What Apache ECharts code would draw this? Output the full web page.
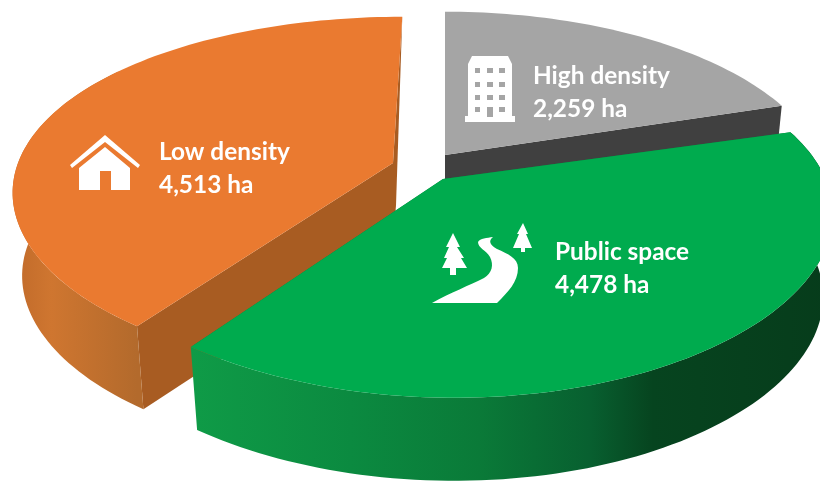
<!DOCTYPE html>
<html>
<head>
<meta charset="utf-8">
<style>html,body{margin:0;padding:0;background:#fff}#chart{width:820px;height:483px}</style>
<script src="https://cdn.jsdelivr.net/npm/echarts@6/dist/echarts.min.js"></script>
</head>
<body>
<div id="chart"></div>
<script>
// Land use by area, clockwise from twelve o'clock.
const categories = ['High density', 'Public space', 'Low density'];
const hectares = [2259, 4478, 4513];
const unit = 'ha';

// Exploded disc: each slice sits on its own apex, seen in perspective.
const apexes = [[445, 155], [443, 179], [393, 163]];
const radiiX = [375, 384, 375];
const radiiY = [172, 175, 172];
const perspectiveX = [0.2, 0.16, 0.14];
const perspectiveY = [0.2, 0.2, 0.176];
const leans = [0, -5, 10.6];
const tilts = [0, 3.5, 0];
const paintOrder = [2, 3, 1];
const DEPTH = 83, FOOT_SCALE = 0.975, RIM_END = Math.PI * 1.7;

const faceColors = ['#a5a5a5', '#00ab4e', '#ea7a30'];
const wallColors = ['#404040', '#0c7a3a', '#a85c22'];
const rimStops = [
  null,
  [[0, '#0f9b47'], [0.25, '#0b8a40'], [0.45, '#0a7a38'], [0.62, '#086030'], [0.72, '#06441f'], [1, '#063c1b']],
  [[0, '#c06a2a'], [0.31, '#cf7630'], [1, '#b36a2c']]
];
const labelCenters = [[533, 76], [555, 252], [159, 152]];
const LINE_GAP = 33;
const LABEL_FONT = 'bold 24.4px Lato';

const total = hectares.reduce((a, b) => a + b, 0);
const startAngles = [];
hectares.reduce((sum, v, i) => { startAngles[i] = sum / total * Math.PI * 2; return sum + v; }, 0);

// Maps a point on the rim of the unit disc (clock angle) to the screen.
function project(i, angle, drop) {
  const u = Math.sin(angle), v = Math.cos(angle);
  const wx = 1 + perspectiveX[i] * v, wy = 1 + perspectiveY[i] * v;
  const x = radiiX[i] * u / wx + leans[i] * v / wx;
  const y = -radiiY[i] * v / wy + tilts[i] * u;
  return [apexes[i][0] + x * (drop ? FOOT_SCALE : 1), apexes[i][1] + y + drop];
}

function arcPoints(i, a0, a1, drop) {
  const pts = [];
  const n = Math.max(8, Math.ceil((a1 - a0) * 40));
  for (let k = 0; k <= n; k++) pts.push(project(i, a0 + (a1 - a0) * k / n, drop));
  return pts;
}

// Pictograms per slice, drawn on the top faces.
const sliceIcons = [
  [
    { fill: '#fff', d: 'M472,56 L508,56 L512,64 L512,116 L515,116 L515,122 L465,122 L465,116 L468,116 L468,64 Z' },
    { fill: '#a5a5a5', d: 'M475,68h5v5h-5z M487,68h6v5h-6z M499,68h6v5h-6z M475,82h5v5h-5z M487,82h6v5h-6z M499,82h6v5h-6z M475,95h5v5h-5z M487,95h6v5h-6z M499,95h6v5h-6z M475,107h5v5h-5z M487,107h6v10h-6z M499,107h6v5h-6z' }
  ],
  [
    { fill: '#fff', d: 'M432,303 C450,293 470,285 484,278 C492,273 494,265 490,257 C486,250 478,248 478,242 C480,238 487,238 493,237 C488,241 490,245 497,249 C508,254 518,258 518,268 C518,282 508,292 497,303 Z' },
    { fill: '#fff', d: 'M453,233 L460,247 L457,247 L464,258 L461,258 L467,268 L456,268 L456,275 L450,275 L450,268 L442,268 L447,258 L444,258 L449,247 L446,247 Z' },
    { fill: '#fff', d: 'M523,223 L528,234 L526,234 L532,248 L525,248 L525,252 L521,252 L521,248 L513,248 L519,234 L517,234 Z' }
  ],
  [
    { fill: '#fff', d: 'M70,165 L105,135 L140,165 L138,168 L105,142 L72,168 Z M105,147 L130,168 L130,190 L111,190 L111,171 L100,171 L100,190 L79,190 L79,168 Z' }
  ]
];

function renderSlice(params, api) {
  const i = params.dataIndex;
  const a0 = startAngles[i];
  const a1 = a0 + api.value(1) / total * Math.PI * 2;
  const apex = apexes[i];
  const z2 = paintOrder[i] * 10;
  const top = arcPoints(i, a0, a1, 0);
  const first = top[0], last = top[top.length - 1];
  const apexFoot = [apex[0], apex[1] + DEPTH];
  const footOf = angle => project(i, angle, DEPTH);
  const children = [];

  // Cut faces first, then the outer rim, then the top surface.
  children.push({
    type: 'polygon', z2,
    shape: { points: [apex, first, footOf(a0), apexFoot] },
    style: { fill: wallColors[i] }
  });
  if (i === 0) {
    children.push({
      type: 'polygon', z2,
      shape: { points: [apex, last, footOf(a1), apexFoot] },
      style: { fill: wallColors[i] }
    });
  } else {
    // Far cut, seen edge-on as a thin sliver.
    children.push({
      type: 'polygon', z2,
      shape: { points: [apex, last, [apex[0] + 3, apex[1] + 42], apexFoot] },
      style: { fill: wallColors[i] }
    });
  }
  if (rimStops[i]) {
    const rimEnd = Math.min(a1, RIM_END);
    const rimTop = arcPoints(i, a0, rimEnd, 0);
    const rimFoot = arcPoints(i, a0, rimEnd, DEPTH).reverse();
    const xs = rimTop.map(p => p[0]);
    children.push({
      type: 'polygon', z2: z2 + 1,
      shape: { points: rimTop.concat(rimFoot) },
      style: {
        fill: new echarts.graphic.LinearGradient(
          Math.min.apply(null, xs), 0, Math.max.apply(null, xs), 0,
          rimStops[i].map(s => ({ offset: s[0], color: s[1] })),
          true)
      }
    });
  }
  children.push({
    type: 'polygon', z2: z2 + 2,
    shape: { points: [apex].concat(top) },
    style: { fill: faceColors[i] }
  });

  sliceIcons[i].forEach(ic => {
    children.push({ type: 'path', z2: z2 + 3, shape: { pathData: ic.d }, style: { fill: ic.fill } });
  });

  // Two-line caption: category and its area.
  const at = labelCenters[i];
  children.push({
    type: 'text', z2: z2 + 4,
    style: { x: at[0], y: at[1], text: categories[i], fill: '#fff', font: LABEL_FONT, verticalAlign: 'middle' }
  });
  children.push({
    type: 'text', z2: z2 + 4,
    style: { x: at[0], y: at[1] + LINE_GAP, text: api.value(1).toLocaleString('en-US') + ' ' + unit, fill: '#fff', font: LABEL_FONT, verticalAlign: 'middle' }
  });
  return { type: 'group', children };
}

const chart = echarts.init(document.getElementById('chart'), null, { renderer: 'canvas' });
chart.setOption({
  animation: false,
  backgroundColor: '#fff',
  series: [{
    type: 'custom',
    coordinateSystem: 'none',
    renderItem: renderSlice,
    dimensions: [{ name: 'category', type: 'ordinal' }, { name: 'hectares', type: 'number' }],
    data: categories.map((c, i) => [c, hectares[i]])
  }]
});
</script>
</body>
</html>
